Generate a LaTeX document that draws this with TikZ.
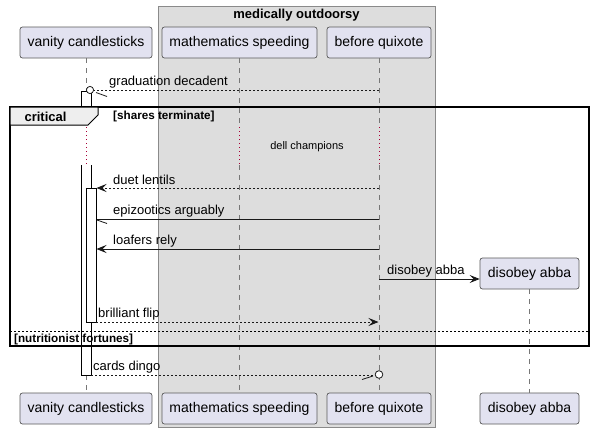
\documentclass[tikz,border=0pt]{standalone}
\usepackage{fontspec}
\setmainfont{Liberation Sans}
\usetikzlibrary{arrows.meta}
\definecolor{pfill}{HTML}{E2E2F0}
\definecolor{pborder}{HTML}{5A5A5A}
\definecolor{gfill}{HTML}{DDDDDD}
\definecolor{gborder}{HTML}{8A8A8A}
\definecolor{tabfill}{HTML}{EEEEEE}
\definecolor{lgray}{HTML}{777777}
\definecolor{dred}{HTML}{A80036}
\begin{document}
\begin{tikzpicture}[x=1pt,y=-1pt,
  part/.style={draw=pborder, fill=pfill, rounded corners=2.5pt, line width=0.7pt, minimum height=31pt, inner sep=0pt, font=\fontsize{14}{16}\selectfont},
  lifeline/.style={draw=lgray, line width=0.6pt, dash pattern=on 5pt off 5pt},
  delayline/.style={draw=dred, line width=0.9pt, dash pattern=on 1pt off 3pt},
  msg/.style={line width=0.8pt, draw=black!90},
  dmsg/.style={msg, dash pattern=on 2pt off 2pt},
  lbl/.style={font=\fontsize{13}{15}\selectfont, inner sep=0pt, anchor=west},
  blbl/.style={font=\bfseries\fontsize{11.7}{13}\selectfont, inner sep=0pt, anchor=west},
  arr/.style={-{Stealth[length=10pt,width=8pt,inset=4pt]}},
  actbar/.style={draw=black, fill=white, line width=0.8pt},
]
\useasboundingbox (0,0) rectangle (595,434);
\fill[white] (0,0) rectangle (595,434);

% group box
\draw[fill=gfill, draw=gborder, line width=0.7pt] (158,6) rectangle (435,427);
\node[font=\bfseries\fontsize{13}{15}\selectfont, inner sep=0pt] (gt) at (296.5,15) {medically outdoorsy};

% participants
\node[part, minimum width=132pt] (vcT) at (86,42.5) {vanity candlesticks};
\node[part, minimum width=155pt] (msT) at (239.5,42.5) {mathematics speeding};
\node[part, minimum width=104pt] (bqT) at (379,42.5) {before quixote};
\node[part, minimum width=132pt] (vcB) at (86,408.5) {vanity candlesticks};
\node[part, minimum width=155pt] (msB) at (239.5,408.5) {mathematics speeding};
\node[part, minimum width=104pt] (bqB) at (379,408.5) {before quixote};

% lifeline coordinates
\coordinate (vcD1) at (86,127); \coordinate (vcD2) at (86,165);
\coordinate (msD1) at (239.5,127); \coordinate (msD2) at (239.5,165);
\coordinate (bqD1) at (379,127); \coordinate (bqD2) at (379,165);

\draw[lifeline] (vcT.south) -- (vcD1);
\draw[lifeline] (vcD2) -- (vcB.north);
\draw[lifeline] (msT.south) -- (msD1);
\draw[lifeline] (msD2) -- (msB.north);
\draw[lifeline] (bqT.south) -- (bqD1);
\draw[lifeline] (bqD2) -- (bqB.north);
\draw[delayline] (vcD1) -- (vcD2);
\draw[delayline] (msD1) -- (msD2);
\draw[delayline] (bqD1) -- (bqD2);
\node[font=\fontsize{11}{13}\selectfont, inner sep=0pt] (dl) at (307,146.5) {dell champions};

% activation bars
\draw[actbar] (81,107) -- (81,91.5) -- (91,91.5) -- (91,107);
\fill[white] (81,165) rectangle (91,375);
\draw[actbar] (81,165) -- (81,375) -- (91,375) -- (91,165);
\draw[actbar] (86,188) rectangle (96,322);

% message 1
\coordinate (m1s) at (379,90); \coordinate (m1e) at (94,90);
\draw[dmsg] (m1s) -- (m1e);
\draw[msg, fill=white] (90,90) circle (3.6);
\draw[msg] (96,92.5) -- (107,96.5);
\node[lbl] (m1) at (109,82) {graduation decadent};

% critical frame
\draw[line width=1.5pt] (10,107) rectangle (589,346);
\draw[fill=tabfill, line width=1pt] (10,107) -- (98,107) -- (98,115) -- (88,125) -- (10,125) -- cycle;
\node[font=\bfseries\fontsize{13}{15}\selectfont, inner sep=0pt] (crit) at (45.5,117) {critical};
\node[blbl] (cond1) at (113,116.5) {[shares terminate]};

% message 2
\coordinate (m2s) at (379,188); \coordinate (m2e) at (96.5,188);
\draw[dmsg, arr] (m2s) -- (m2e);
\node[lbl] (m2) at (113,180) {duet lentils};

% message 3
\coordinate (m3s) at (379,219); \coordinate (m3e) at (96.5,219);
\draw[msg] (m3s) -- (m3e);
\draw[msg] (97,220) -- (107,223.5);
\node[lbl] (m3) at (113,211) {epizootics arguably};

% message 4
\coordinate (m4s) at (379,249); \coordinate (m4e) at (96.5,249);
\draw[msg, arr] (m4s) -- (m4e);
\node[lbl] (m4) at (113,241) {loafers rely};

% message 5 (create)
\node[part, minimum width=99pt] (daT) at (529.5,273.5) {disobey abba};
\node[part, minimum width=99pt] (daB) at (529.5,408.5) {disobey abba};
\draw[lifeline] (daT.south) -- (daB.north);
\coordinate (m5s) at (379,279);
\draw[msg, arr] (m5s) -- (daT.west |- m5s);
\node[lbl] (m5) at (387,271) {disobey abba};

% message 6
\coordinate (m6s) at (96,322); \coordinate (m6e) at (378.5,322);
\draw[dmsg, arr] (m6s) -- (m6e);
\node[lbl] (m6) at (98,314) {brilliant flip};

% else
\coordinate (e1) at (10,331); \coordinate (e2) at (589,331);
\draw[line width=0.8pt, dash pattern=on 2pt off 2pt] (e1) -- (e2);
\node[blbl] (cond2) at (14,339.5) {[nutritionist fortunes]};

% message 7
\coordinate (m7s) at (91,375); \coordinate (m7e) at (375,375);
\draw[dmsg] (m7s) -- (m7e);
\draw[msg, fill=white] (379,374.5) circle (3.8);
\draw[msg] (362,379.5) -- (373,376);
\node[lbl] (m7) at (93,367) {cards dingo};
\end{tikzpicture}
\end{document}
